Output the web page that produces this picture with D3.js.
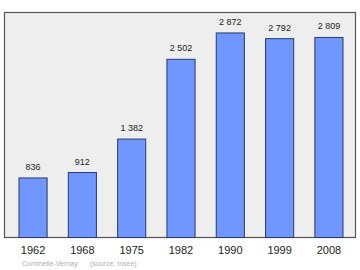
<!DOCTYPE html>
<html>
<head>
<meta charset="utf-8">
<script src="https://cdn.jsdelivr.net/npm/d3@7"></script>
<style>
  body { margin: 0; background: #fff; }
</style>
</head>
<body>
<script>
// Population data
const years = ['1962', '1968', '1975', '1982', '1990', '1999', '2008'];
const population = [836, 912, 1382, 2502, 2872, 2792, 2809];
const labels = ['836', '912', '1 382', '2 502', '2 872', '2 792', '2 809'];
const creditName = 'Commelle-Vernay';
const creditSource = '(source: Insee)';

const width = 360, height = 270;
const frame = { left: 4.5, top: 12.5, right: 355.5, bottom: 237.5 };

const svg = d3.select('body').append('svg')
  .attr('width', width)
  .attr('height', height)
  .style('font-family', '"Liberation Sans", Arial, sans-serif');

// Plot background and frame
svg.append('rect')
  .attr('x', frame.left).attr('y', frame.top)
  .attr('width', frame.right - frame.left)
  .attr('height', frame.bottom - frame.top)
  .attr('fill', '#eeeeee')
  .attr('stroke', '#555')
  .attr('stroke-width', 1.2);

// Scales
const x = d3.scaleBand()
  .domain(years)
  .range([frame.left + 14.5, frame.right - 12.5])
  .paddingInner(0.43)
  .paddingOuter(0);

const y = d3.scaleLinear()
  .domain([0, d3.max(population) * 1.1])
  .range([frame.bottom, frame.top]);

// Bars
svg.append('g').selectAll('rect')
  .data(population)
  .join('rect')
  .attr('x', (d, i) => x(years[i]))
  .attr('y', d => y(d))
  .attr('width', x.bandwidth())
  .attr('height', d => frame.bottom - y(d))
  .attr('fill', '#6f97ff')
  .attr('stroke', '#2a3a6a')
  .attr('stroke-width', 1);

// Value labels
svg.append('g').selectAll('text')
  .data(population)
  .join('text')
  .attr('x', (d, i) => x(years[i]) + x.bandwidth() / 2)
  .attr('y', d => y(d) - 8)
  .attr('text-anchor', 'middle')
  .attr('font-size', 9)
  .attr('fill', '#222')
  .text((d, i) => labels[i]);

// Year axis labels
svg.append('g').selectAll('text')
  .data(years)
  .join('text')
  .attr('x', d => x(d) + x.bandwidth() / 2)
  .attr('y', 254)
  .attr('text-anchor', 'middle')
  .attr('font-size', 11)
  .attr('fill', '#222')
  .text(d => d);

// Credit line
const credit = svg.append('text')
  .attr('y', 266)
  .attr('font-size', 7)
  .attr('fill', '#b0b0b0');
credit.append('tspan').attr('x', 22).text(creditName);
credit.append('tspan').attr('x', 90).text(creditSource);
</script>
</body>
</html>
